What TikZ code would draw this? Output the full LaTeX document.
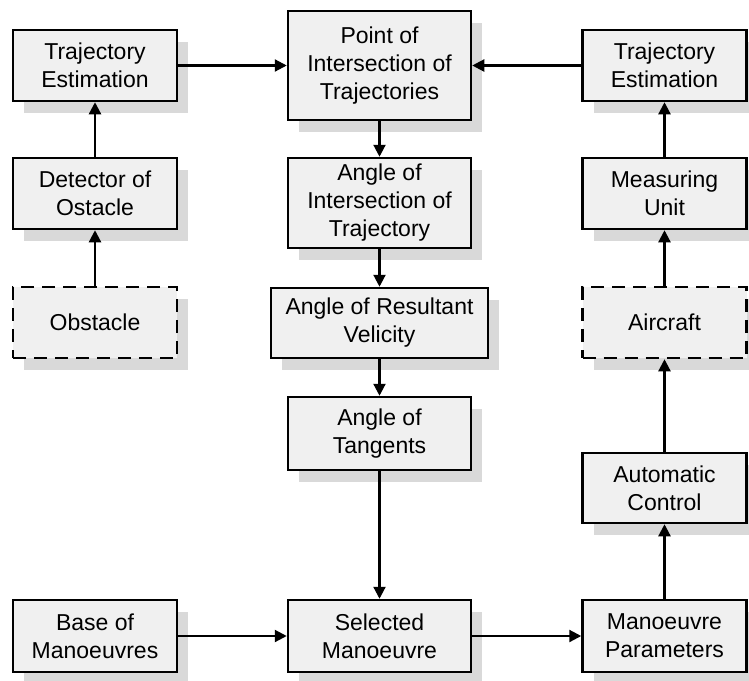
\documentclass[tikz,border=0pt]{standalone}
\usepackage{fontspec}
\setmainfont{Liberation Sans}
\usetikzlibrary{arrows.meta,shadows}
\definecolor{boxfill}{HTML}{F0F0F0}
\definecolor{shadowfill}{HTML}{D9D9D9}
\begin{document}
\begin{tikzpicture}[x=1pt,y=-1pt,
  blk/.style={draw=black, line width=2.5pt, fill=boxfill, align=center,
    inner sep=0pt, font=\fontsize{23}{28}\selectfont,
    general shadow={fill=shadowfill, shadow xshift=11pt, shadow yshift=-12pt}},
  dashblk/.style={blk, dash pattern=on 13pt off 8pt},
  conn/.style={line width=2.2pt, -{Triangle[length=12pt,width=12pt]}}]
\useasboundingbox (0,0) rectangle (749,680);
% left column
\node[blk, minimum width=164, minimum height=71] (trajL) at (95,65.5) {Trajectory\\Estimation};
\node[blk, minimum width=164, minimum height=71] (det) at (95,193.5) {Detector of\\Ostacle};
\node[dashblk, minimum width=164, minimum height=71] (obs) at (95,322.5) {Obstacle};
\node[blk, minimum width=164, minimum height=72] (base) at (95,636) {Base of\\Manoeuvres};
% middle column
\node[blk, minimum width=183, minimum height=109] (point) at (379.5,65.5) {Point of\\Intersection of\\Trajectories};
\node[blk, minimum width=183, minimum height=90] (angint) at (379.5,203) {Angle of\\Intersection of\\Trajectory};
\node[blk, minimum width=217, minimum height=70] (res) at (379.5,323) {Angle of Resultant\\Velicity};
\node[blk, minimum width=183, minimum height=73] (tan) at (379.5,433.5) {Angle of\\Tangents};
\node[blk, minimum width=183, minimum height=72] (sel) at (379.5,636) {Selected\\Manoeuvre};
% right column
\node[blk, minimum width=164, minimum height=71] (trajR) at (664.5,65.5) {Trajectory\\Estimation};
\node[blk, minimum width=164, minimum height=71] (meas) at (664.5,193.5) {Measuring\\Unit};
\node[dashblk, minimum width=164, minimum height=71] (air) at (664.5,322.5) {Aircraft};
\node[blk, minimum width=164, minimum height=70] (auto) at (664.5,488) {Automatic\\Control};
\node[blk, minimum width=164, minimum height=72] (par) at (664.5,636) {Manoeuvre\\Parameters};
% connectors
\draw[conn] (trajL) -- (point);
\draw[conn] (trajR) -- (point);
\draw[conn] (det) -- (trajL);
\draw[conn] (obs) -- (det);
\draw[conn] (point) -- (angint);
\draw[conn] (angint) -- (res);
\draw[conn] (res) -- (tan);
\draw[conn] (tan) -- (sel);
\draw[conn] (base) -- (sel);
\draw[conn] (sel) -- (par);
\draw[conn] (par) -- (auto);
\draw[conn] (auto) -- (air);
\draw[conn] (air) -- (meas);
\draw[conn] (meas) -- (trajR);
\end{tikzpicture}
\end{document}
